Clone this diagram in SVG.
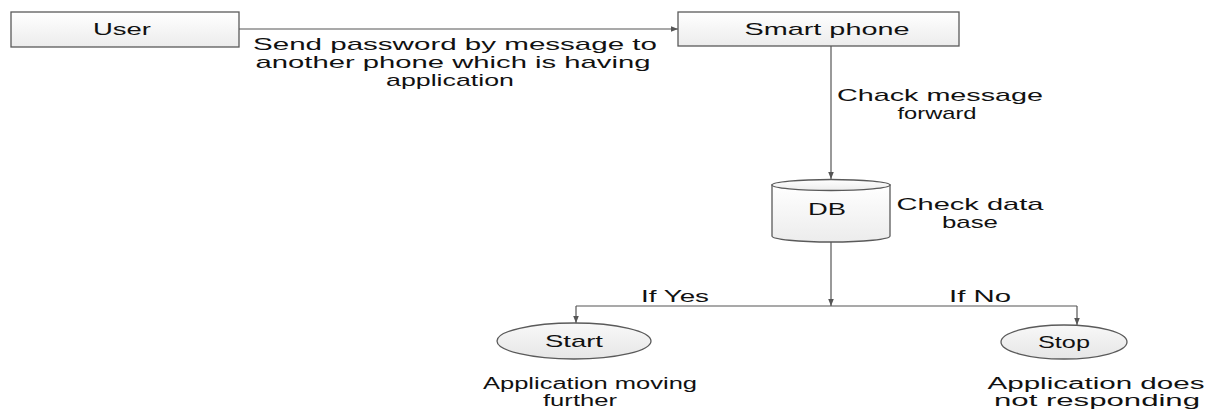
<svg xmlns="http://www.w3.org/2000/svg" width="1212" height="410" viewBox="0 0 1212 410">
  <style>
    .lbl { font-family: "Liberation Sans", Arial, sans-serif; font-size: 17px; fill: #111; }
    .cap { font-family: "Liberation Sans", Arial, sans-serif; font-size: 16px; fill: #111; }
    .box { fill: url(#boxFill); stroke: #5a5a5a; stroke-width: 1.3; }
    .oval { fill: url(#ovalFill); stroke: #5a5a5a; stroke-width: 1.3; }
    .wire { fill: none; stroke: #555; stroke-width: 1.2; }
  </style>
  <defs>
    <linearGradient id="boxFill" x1="0" y1="0" x2="0" y2="1">
      <stop offset="0" stop-color="#ffffff"/>
      <stop offset="1" stop-color="#ececec"/>
    </linearGradient>
    <linearGradient id="ovalFill" x1="0" y1="0" x2="0" y2="1">
      <stop offset="0" stop-color="#f8f8f8"/>
      <stop offset="1" stop-color="#e6e6e6"/>
    </linearGradient>
    <marker id="arrow" viewBox="0 0 10 10" refX="10" refY="5" markerWidth="7" markerHeight="7" markerUnits="userSpaceOnUse" orient="auto">
      <path d="M0,1 L10,5 L0,9 Z" fill="#555"/>
    </marker>
  </defs>

  <!-- connectors -->
  <g id="connectors">
    <path class="wire" d="M239,29 L678,29" marker-end="url(#arrow)"/>
    <path class="wire" d="M831,46 L831,179" marker-end="url(#arrow)"/>
    <path class="wire" d="M831,242 L831,306" marker-end="url(#arrow)"/>
    <path class="wire" d="M576,306 L1077,306"/>
    <path class="wire" d="M576,306 L576,323" marker-end="url(#arrow)"/>
    <path class="wire" d="M1077,306 L1077,325" marker-end="url(#arrow)"/>
    <text class="lbl" x="455" y="50" text-anchor="middle" textLength="404" lengthAdjust="spacingAndGlyphs">Send password by message to</text>
    <text class="lbl" x="453" y="68" text-anchor="middle" textLength="395" lengthAdjust="spacingAndGlyphs">another phone which is having</text>
    <text class="lbl" x="450" y="86" text-anchor="middle" textLength="128" lengthAdjust="spacingAndGlyphs">application</text>
    <text class="lbl" x="940" y="101" text-anchor="middle" textLength="206" lengthAdjust="spacingAndGlyphs">Chack message</text>
    <text class="lbl" x="937" y="119" text-anchor="middle" textLength="79" lengthAdjust="spacingAndGlyphs">forward</text>
    <text class="lbl" x="970" y="210" text-anchor="middle" textLength="147" lengthAdjust="spacingAndGlyphs">Check data</text>
    <text class="lbl" x="970" y="228" text-anchor="middle" textLength="56" lengthAdjust="spacingAndGlyphs">base</text>
    <text class="lbl" x="675" y="302" text-anchor="middle" textLength="68" lengthAdjust="spacingAndGlyphs">If Yes</text>
    <text class="lbl" x="980" y="302" text-anchor="middle" textLength="62" lengthAdjust="spacingAndGlyphs">If No</text>
  </g>

  <!-- User -->
  <g id="user">
    <rect class="box" x="11" y="12" width="228" height="35"/>
    <text class="lbl" x="122" y="35" text-anchor="middle" textLength="58" lengthAdjust="spacingAndGlyphs">User</text>
  </g>

  <!-- Smart phone -->
  <g id="smartphone">
    <rect class="box" x="678" y="12" width="281" height="34"/>
    <text class="lbl" x="827" y="35" text-anchor="middle" textLength="165" lengthAdjust="spacingAndGlyphs">Smart phone</text>
  </g>

  <!-- DB cylinder -->
  <g id="db">
    <path class="box" d="M772,185 L772,236 A59,6 0 0 0 890,236 L890,185 Z"/>
    <ellipse class="box" cx="831" cy="185" rx="59" ry="5.5"/>
    <text class="lbl" x="827" y="215" text-anchor="middle" textLength="38" lengthAdjust="spacingAndGlyphs">DB</text>
  </g>

  <!-- Start -->
  <g id="start">
    <ellipse class="oval" cx="574" cy="341" rx="77" ry="18"/>
    <text class="lbl" x="574" y="347" text-anchor="middle" textLength="58" lengthAdjust="spacingAndGlyphs">Start</text>
    <text class="cap" x="590" y="389" text-anchor="middle" textLength="214" lengthAdjust="spacingAndGlyphs">Application moving</text>
    <text class="cap" x="580" y="406" text-anchor="middle" textLength="74" lengthAdjust="spacingAndGlyphs">further</text>
  </g>

  <!-- Stop -->
  <g id="stop">
    <ellipse class="oval" cx="1064" cy="342" rx="63" ry="17"/>
    <text class="lbl" x="1064" y="348" text-anchor="middle" textLength="52" lengthAdjust="spacingAndGlyphs">Stop</text>
    <text class="cap" x="1096" y="389" text-anchor="middle" textLength="217" lengthAdjust="spacingAndGlyphs">Application does</text>
    <text class="cap" x="1097" y="406" text-anchor="middle" textLength="206" lengthAdjust="spacingAndGlyphs">not responding</text>
  </g>
</svg>
